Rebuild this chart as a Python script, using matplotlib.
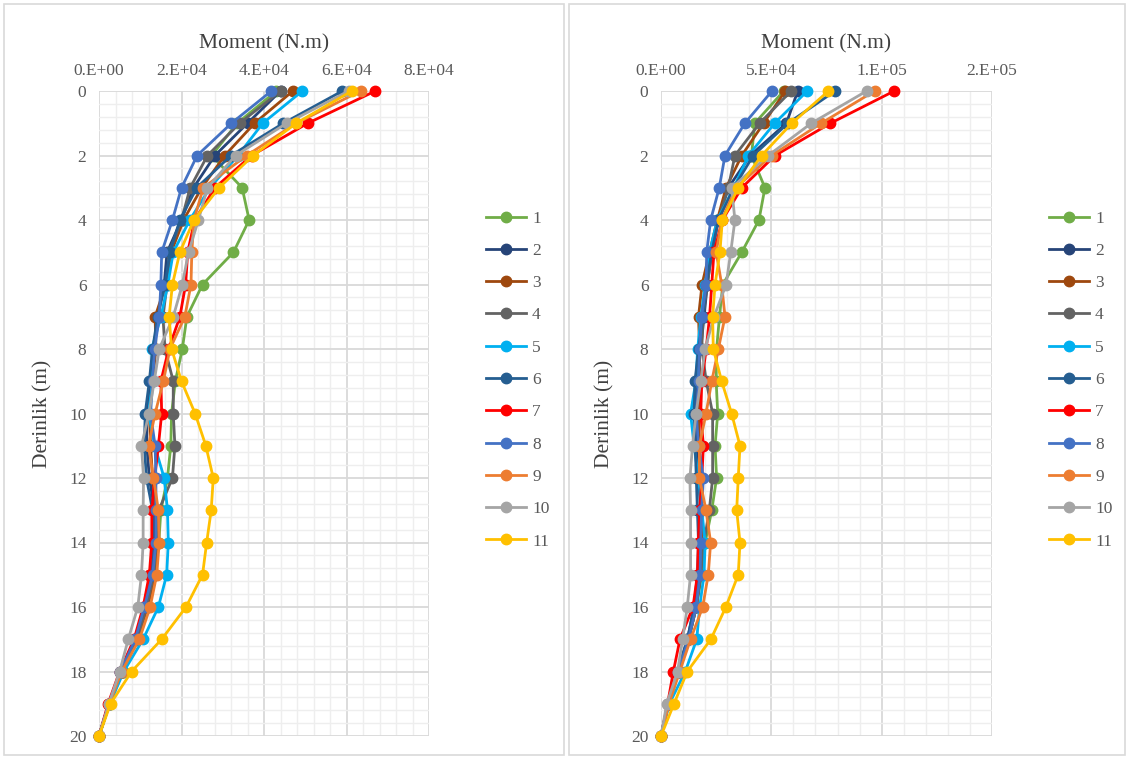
import matplotlib
matplotlib.use('Agg')
import matplotlib.pyplot as plt
from matplotlib.ticker import MultipleLocator
from matplotlib.patches import Rectangle
import numpy as np

plt.rcParams['font.family'] = ['Liberation Serif', 'DejaVu Serif']

depth = list(range(21))
names = [str(i) for i in range(1, 12)]
colors = ['#70AD47', '#264478', '#9E480E', '#636363', '#00B0F0', '#255E91',
          '#FF0000', '#4472C4', '#ED7D31', '#A5A5A5', '#FFC000']

# left chart, moment in units of 1e4 N.m
left_1 = [4.30, 3.35, 2.73, 3.47, 3.64, 3.26, 2.51, 2.13, 2.02, 1.85, 1.76, 1.74, 1.66, 1.50, 1.45, 1.36, 1.15, 0.92, 0.58, 0.26, 0]
left_2 = [4.40, 3.60, 2.81, 2.29, 2.00, 1.65, 1.58, 1.42, 1.33, 1.25, 1.15, 1.16, 1.22, 1.35, 1.37, 1.33, 1.13, 0.90, 0.56, 0.25, 0]
left_3 = [4.70, 3.77, 3.05, 2.49, 2.05, 1.75, 1.62, 1.36, 1.38, 1.30, 1.22, 1.25, 1.30, 1.38, 1.40, 1.36, 1.18, 0.93, 0.55, 0.24, 0]
left_4 = [4.40, 3.41, 2.63, 2.21, 2.00, 1.70, 1.65, 1.55, 1.60, 1.80, 1.80, 1.84, 1.78, 1.45, 1.38, 1.33, 1.15, 0.92, 0.55, 0.24, 0]
left_5 = [4.93, 3.97, 3.37, 2.69, 2.20, 1.80, 1.67, 1.50, 1.28, 1.30, 1.20, 1.35, 1.58, 1.66, 1.68, 1.64, 1.44, 1.07, 0.60, 0.26, 0]
left_6 = [5.90, 4.47, 3.20, 2.37, 1.96, 1.72, 1.60, 1.42, 1.30, 1.22, 1.12, 1.10, 1.15, 1.30, 1.32, 1.28, 1.10, 0.88, 0.52, 0.24, 0]
left_7 = [6.70, 5.06, 3.70, 2.81, 2.32, 2.15, 2.10, 1.96, 1.69, 1.50, 1.52, 1.44, 1.35, 1.28, 1.28, 1.22, 1.07, 0.85, 0.50, 0.22, 0]
left_8 = [4.18, 3.21, 2.38, 2.00, 1.78, 1.52, 1.50, 1.46, 1.35, 1.30, 1.25, 1.36, 1.38, 1.38, 1.38, 1.30, 1.10, 0.88, 0.52, 0.24, 0]
left_9 = [6.34, 4.78, 3.58, 2.53, 2.30, 2.25, 2.23, 2.08, 1.72, 1.56, 1.36, 1.20, 1.32, 1.44, 1.46, 1.40, 1.24, 0.98, 0.55, 0.25, 0]
left_10 = [6.05, 4.55, 3.31, 2.63, 2.41, 2.17, 2.02, 1.80, 1.46, 1.34, 1.21, 1.03, 1.08, 1.07, 1.07, 1.03, 0.94, 0.71, 0.50, 0.24, 0]
left_11 = [6.13, 4.78, 3.74, 2.91, 2.30, 1.96, 1.78, 1.70, 1.76, 2.00, 2.33, 2.59, 2.77, 2.72, 2.61, 2.51, 2.11, 1.52, 0.79, 0.28, 0]

# right chart, moment in units of 1e4 N.m
right_1 = [5.56, 4.25, 4.10, 4.71, 4.44, 3.66, 2.80, 2.65, 2.52, 2.50, 2.57, 2.45, 2.52, 2.30, 2.00, 1.85, 1.60, 1.25, 0.80, 0.35, 0]
right_2 = [6.20, 5.68, 4.05, 3.05, 2.60, 2.30, 2.10, 1.95, 1.80, 1.60, 1.55, 1.60, 1.70, 1.80, 1.75, 1.70, 1.50, 1.20, 0.75, 0.32, 0]
right_3 = [5.63, 4.65, 3.66, 2.95, 2.55, 2.20, 1.86, 1.70, 1.75, 1.75, 1.70, 1.75, 1.80, 1.85, 1.85, 1.80, 1.60, 1.25, 0.78, 0.33, 0]
right_4 = [5.90, 4.47, 3.35, 3.05, 2.60, 2.30, 2.10, 1.90, 1.85, 2.05, 2.34, 2.34, 2.34, 2.19, 1.95, 1.80, 1.60, 1.25, 0.80, 0.34, 0]
right_5 = [6.63, 5.15, 3.96, 3.30, 2.55, 2.20, 2.00, 1.81, 1.66, 1.58, 1.34, 1.50, 1.70, 1.85, 2.00, 1.95, 1.75, 1.62, 1.10, 0.38, 0]
right_6 = [7.89, 5.75, 4.18, 3.30, 2.60, 2.30, 2.05, 1.90, 1.70, 1.54, 1.50, 1.55, 1.60, 1.65, 1.70, 1.65, 1.50, 1.20, 0.75, 0.32, 0]
right_7 = [10.57, 7.68, 5.17, 3.66, 2.78, 2.40, 2.30, 2.20, 2.05, 1.85, 1.80, 1.92, 1.85, 1.75, 1.69, 1.65, 1.45, 0.86, 0.56, 0.30, 0]
right_8 = [5.03, 3.80, 2.90, 2.64, 2.25, 2.07, 2.05, 1.84, 1.75, 1.70, 1.60, 1.70, 1.92, 1.84, 1.80, 1.77, 1.59, 1.25, 0.78, 0.33, 0]
right_9 = [9.68, 7.26, 5.01, 3.40, 2.75, 2.50, 2.75, 2.90, 2.60, 2.30, 2.04, 1.74, 1.74, 2.04, 2.25, 2.14, 1.89, 1.34, 0.85, 0.36, 0]
right_10 = [9.32, 6.81, 4.86, 3.20, 3.35, 3.16, 2.95, 2.40, 2.00, 1.80, 1.59, 1.43, 1.31, 1.34, 1.34, 1.34, 1.19, 0.98, 0.75, 0.26, 0]
right_11 = [7.59, 5.93, 4.56, 3.50, 2.78, 2.67, 2.45, 2.34, 2.37, 2.75, 3.20, 3.58, 3.50, 3.43, 3.58, 3.50, 2.94, 2.26, 1.19, 0.59, 0]

left_series = [left_1, left_2, left_3, left_4, left_5, left_6, left_7, left_8, left_9, left_10, left_11]
right_series = [right_1, right_2, right_3, right_4, right_5, right_6, right_7, right_8, right_9, right_10, right_11]

left_ticks = [0, 20000, 40000, 60000, 80000]
left_ticklabels = ['0.E+00', '2.E+04', '4.E+04', '6.E+04', '8.E+04']
right_ticks = [0, 50000, 100000, 150000]
right_ticklabels = ['0.E+00', '5.E+04', '1.E+05', '2.E+05']

TXT = '#595959'


def panel(ax, series, ticks, ticklabels):
    for vals, c, n in zip(series, colors, names):
        ax.plot(np.array(vals) * 1e4, depth, color=c, lw=2.0, marker='o', ms=7.5,
                label=n, clip_on=False, zorder=3)
    ax.set_xlim(ticks[0], ticks[-1])
    ax.set_ylim(20, 0)
    ax.xaxis.tick_top()
    ax.xaxis.set_label_position('top')
    ax.set_xticks(ticks)
    ax.set_xticklabels(ticklabels)
    ax.xaxis.set_minor_locator(MultipleLocator((ticks[1] - ticks[0]) / 5))
    ax.yaxis.set_major_locator(MultipleLocator(2))
    ax.yaxis.set_minor_locator(MultipleLocator(0.4))
    ax.grid(which='major', color='#d9d9d9', lw=1.3)
    ax.grid(which='minor', color='#eeeeee', lw=1.0)
    ax.set_axisbelow(True)
    ax.tick_params(which='both', length=0, colors=TXT, labelsize=12.5)
    ax.tick_params(axis='x', pad=9)
    ax.tick_params(axis='y', pad=9)
    for s in ax.spines.values():
        s.set_visible(False)
    ax.set_xlabel('Moment (N.m)', fontsize=15.5, color='#404040', labelpad=10)
    ax.set_ylabel('Derinlik (m)', fontsize=15.5, color='#404040', labelpad=12)


fig = plt.figure(figsize=(11.29, 7.58), dpi=100)

ax1 = fig.add_axes([99 / 1129, 1 - 736 / 758, 330 / 1129, 645 / 758])
ax2 = fig.add_axes([661 / 1129, 1 - 736 / 758, 331 / 1129, 645 / 758])
panel(ax1, left_series, left_ticks, left_ticklabels)
panel(ax2, right_series, right_ticks, right_ticklabels)

# legends at the right of each chart
for ax, x0 in [(ax1, 486 / 1129), (ax2, 1049 / 1129)]:
    h, l = ax.get_legend_handles_labels()
    fig.legend(h, l, loc='center left', bbox_to_anchor=(x0, 1 - 380 / 758),
               frameon=False, fontsize=12.5, labelcolor=TXT, labelspacing=0.93,
               handlelength=2.3, handletextpad=0.35, borderpad=0, borderaxespad=0)

# chart area borders
fig.add_artist(Rectangle((4 / 1129, 3 / 758), 560 / 1129, 751 / 758, transform=fig.transFigure,
                         fill=False, edgecolor='#d9d9d9', lw=1.2))
fig.add_artist(Rectangle((569 / 1129, 3 / 758), 556 / 1129, 751 / 758, transform=fig.transFigure,
                         fill=False, edgecolor='#d9d9d9', lw=1.2))

fig.savefig('out.png', dpi=100)
